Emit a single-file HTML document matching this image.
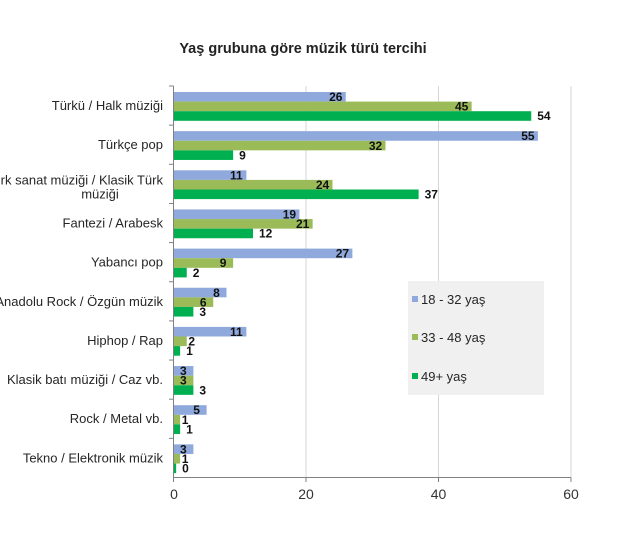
<!DOCTYPE html>
<html><head><meta charset="utf-8"><style>
body{margin:0;background:#fff;}
svg{display:block;font-family:"Liberation Sans",sans-serif;}
.c{font-size:13px;fill:#262626;}
.v{font-size:12px;font-weight:bold;fill:#111;}
</style></head><body>
<svg width="620" height="538" viewBox="0 0 620 538">
<rect width="620" height="538" fill="#fff"/>
<text x="303" y="53" text-anchor="middle" font-size="14.5" font-weight="bold" fill="#222">Yaş grubuna göre müzik türü tercihi</text>
<g stroke="#d6d6d6" stroke-width="1">
<line x1="306" y1="86" x2="306" y2="477"/>
<line x1="438.5" y1="86" x2="438.5" y2="477"/>
<line x1="571" y1="86" x2="571" y2="477"/>
</g>
<g id="bars"></g>
<g stroke="#808080" stroke-width="1">
<line x1="173.5" y1="86" x2="173.5" y2="477.5"/>
<line x1="173.5" y1="477.5" x2="571" y2="477.5"/>
<line x1="306" y1="477.5" x2="306" y2="482"/>
<line x1="438.5" y1="477.5" x2="438.5" y2="482"/>
<line x1="571" y1="477.5" x2="571" y2="482"/>
<line x1="173.5" y1="477.5" x2="173.5" y2="482"/>
</g>
<g font-size="14" fill="#333" text-anchor="middle">
<text x="174" y="499">0</text><text x="306" y="499">20</text><text x="438.5" y="499">40</text><text x="571" y="499">60</text>
</g>
<rect x="408" y="281" width="136" height="114" fill="#f0f0f0"/>
<rect x="412" y="296" width="6" height="6" fill="#8fa9dc"/>
<rect x="412" y="334" width="6" height="6" fill="#9bbb59"/>
<rect x="412" y="373" width="6" height="6" fill="#00b050"/>
<text class="c" x="421" y="304">18 - 32 yaş</text>
<text class="c" x="421" y="342">33 - 48 yaş</text>
<text class="c" x="421" y="381">49+ yaş</text>
</svg>
<script>
(function(){
var d=[["Türkü / Halk müziği",26,45,54],["Türkçe pop",55,32,9],["Türk sanat müziği / Klasik Türk",11,24,37],["Fantezi / Arabesk",19,21,12],["Yabancı pop",27,9,2],["Anadolu Rock / Özgün müzik",8,6,3],["Hiphop / Rap",11,2,1],["Klasik batı müziği / Caz vb.",3,3,3],["Rock / Metal vb.",5,1,1],["Tekno / Elektronik müzik",3,1,0]];
var cols=["#8fa9dc","#9bbb59","#00b050"];
var g=document.getElementById("bars"),s="";
var x0=173.5,k=6.625,band=39.15,y0=86;
d.forEach(function(r,i){
 var y=y0+i*band+6;
 s+='<line x1="169" y1="'+(y0+i*band)+'" x2="173.5" y2="'+(y0+i*band)+'" stroke="#808080"/>';
 var ty=y+18;
 if(i==2){s+='<text class="c" x="163" y="'+(ty-4)+'" text-anchor="end">'+r[0]+'</text><text class="c" x="100" y="'+(ty+10)+'" text-anchor="middle">müziği</text>';}
 else s+='<text class="c" x="163" y="'+ty+'" text-anchor="end">'+r[0]+'</text>';
 for(var j=0;j<3;j++){
  var v=r[j+1],w=Math.max(v,0.4)*k,by=y+j*9.6;
  s+='<rect x="'+x0+'" y="'+by+'" width="'+w+'" height="9.6" fill="'+cols[j]+'"/>';
  var e=x0+w,lx;
  if(j<2){lx=e-10; if(v<=2)lx=e+5; s+='<text class="v" x="'+lx+'" y="'+(by+9)+'" text-anchor="middle">'+v+'</text>';}
  else s+='<text class="v" x="'+(e+6)+'" y="'+(by+9)+'">'+v+'</text>';
 }
});
g.innerHTML=s;
})();
</script>
</body></html>
